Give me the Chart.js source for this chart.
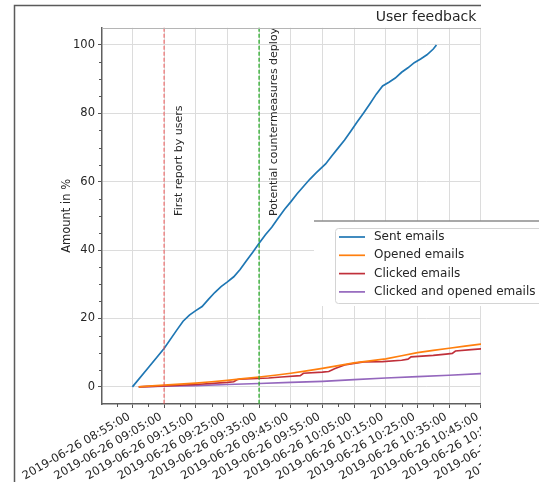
<!DOCTYPE html>
<html>
<head>
<meta charset="utf-8">
<script src="https://cdn.jsdelivr.net/npm/chart.js@4.4.1/dist/chart.umd.min.js"></script>
<style>
  html, body { margin: 0; padding: 0; background: #fff; overflow: hidden; width: 539px; height: 482px; }
  #wrap { position: absolute; left: 0; top: 0; width: 760px; height: 482px; }
</style>
</head>
<body>
<div id="wrap"><canvas id="chart"></canvas></div>
<script>
// Phishing campaign follow-up, 2019-06-26: share of recipients (%) over time.
const DAY = '2019-06-26';

const sentTimes = ['08:55','09:00','09:05','09:09','09:11','09:13','09:15','09:17','09:19','09:21',
  '09:23','09:25','09:27','09:29','09:31','09:33','09:35','09:37','09:39','09:41',
  '09:43','09:45','09:47','09:49','09:51','09:53','09:56','09:58','10:00','10:02',
  '10:04','10:06','10:08','10:10','10:12','10:14','10:16','10:18','10:20','10:22',
  '10:24','10:26','10:28','10:30','10:31'];
const sentValues = [0, 5.6, 11.2, 16.6, 19.2, 21.0, 22.3, 23.5, 25.6, 27.6,
  29.3, 30.7, 32.2, 34.3, 36.9, 39.4, 42.0, 44.5, 46.7, 49.3,
  51.9, 54.1, 56.5, 58.6, 60.7, 62.6, 65.2, 67.6, 69.9, 72.2,
  74.8, 77.5, 80.1, 82.8, 85.6, 88.0, 89.1, 90.3, 92.0, 93.3,
  94.8, 95.9, 97.1, 98.8, 100];

const openedTimes = ['08:57','09:00','09:05','09:10','09:15','09:20','09:25','09:30','09:35','09:40',
  '09:45','09:50','09:55','10:00','10:05','10:10','10:15','10:20','10:25','10:30',
  '10:35','10:40','10:45','10:50'];
const openedValues = [0, 0.2, 0.5, 0.8, 1.1, 1.5, 1.9, 2.4, 2.9, 3.4,
  4.0, 4.7, 5.4, 6.2, 7.0, 7.6, 8.2, 9.1, 10.0, 10.7,
  11.3, 11.9, 12.5, 13.0];

const clickedTimes = ['08:57','09:05','09:15','09:25','09:27','09:28','09:29','09:38','09:42','09:48',
  '09:49','09:55','09:57','09:59','10:02','10:05','10:08','10:14','10:20','10:22',
  '10:23','10:30','10:34','10:36','10:37','10:42','10:45','10:50'];
const clickedValues = [0, 0.3, 0.7, 1.3, 1.5, 2.1, 2.3, 2.6, 2.9, 3.3,
  4.0, 4.3, 4.5, 5.4, 6.4, 6.9, 7.3, 7.4, 7.8, 8.1,
  8.8, 9.2, 9.6, 9.8, 10.5, 10.9, 11.1, 11.3];

const bothTimes = ['08:57','09:05','09:15','09:25','09:35','09:45','09:55','10:05','10:15','10:25',
  '10:35','10:45','10:50'];
const bothValues = [0, 0.2, 0.4, 0.7, 1.0, 1.3, 1.6, 2.1, 2.6, 3.0,
  3.4, 3.9, 4.0];

const seriesNames = ['Sent emails', 'Opened emails', 'Clicked emails', 'Clicked and opened emails'];

const xTickTimes = ['08:55','09:05','09:15','09:25','09:35','09:45','09:55','10:05',
  '10:15','10:25','10:35','10:45','10:55','11:05','11:15'];
const yTickValues = [0, 20, 40, 60, 80, 100];

const eventTimes = ['09:05', '09:35'];
const eventLabels = ['First report by users', 'Potential countermeasures deploy'];

// ---- styling ----
const seriesColors = ['#1f77b4', '#ff7f0e', '#c0303a', '#9467bd'];
const eventColors = ['rgba(240,70,70,0.6)', 'rgba(40,170,40,0.85)'];
const FONT = 'DejaVu Sans';
const TEXT = '#262626';
const VIEW_RIGHT = 481;   // visible right edge of the figure

const toMin = t => { const [h, m] = t.split(':').map(Number); return h * 60 + m; };
const pad2 = n => String(n).padStart(2, '0');
const fmt = v => `${DAY} ${pad2(Math.floor(v / 60))}:${pad2(Math.round(v % 60))}:00`;
const pts = (ts, vs) => ts.map((t, i) => ({ x: toMin(t), y: vs[i] }));

const seriesData = [
  pts(sentTimes, sentValues),
  pts(openedTimes, openedValues),
  pts(clickedTimes, clickedValues),
  pts(bothTimes, bothValues)
];

// vertical event markers with rotated captions
const eventPlugin = {
  id: 'events',
  afterDatasetsDraw(chart) {
    const { ctx, chartArea: a, scales: { x, y } } = chart;
    ctx.save();
    eventTimes.forEach((t, i) => {
      const px = x.getPixelForValue(toMin(t));
      ctx.strokeStyle = eventColors[i];
      ctx.lineWidth = 1.5;
      ctx.setLineDash([4, 2]);
      ctx.beginPath();
      ctx.moveTo(px, a.top);
      ctx.lineTo(px, a.bottom);
      ctx.stroke();
      ctx.setLineDash([]);
      ctx.save();
      ctx.translate(px + 15, y.getPixelForValue(50));
      ctx.rotate(-Math.PI / 2);
      ctx.fillStyle = TEXT;
      ctx.font = `11px "${FONT}"`;
      ctx.textAlign = 'left';
      ctx.textBaseline = 'middle';
      ctx.fillText(eventLabels[i], 0, 0);
      ctx.restore();
    });
    ctx.restore();
  }
};

// minor ticks, top spine, figure frame and legend panel
const framePlugin = {
  id: 'frame',
  afterDraw(chart) {
    const { ctx, chartArea: a, scales: { x, y }, width: W, height: H } = chart;
    ctx.save();
    ctx.strokeStyle = '#555';
    ctx.lineWidth = 1;
    for (let v = 5; v < 105; v += 5) {
      if (v % 20 === 0) continue;
      const py = Math.round(y.getPixelForValue(v)) + 0.5;
      ctx.beginPath(); ctx.moveTo(a.left - 3, py); ctx.lineTo(a.left, py); ctx.stroke();
    }
    for (let m = Math.ceil(x.min / 5) * 5; m < x.max; m += 5) {
      if ((m - toMin(xTickTimes[0])) % 10 === 0) continue;
      const px = Math.round(x.getPixelForValue(m)) + 0.5;
      ctx.beginPath(); ctx.moveTo(px, a.bottom); ctx.lineTo(px, a.bottom + 3); ctx.stroke();
    }
    // top spine
    ctx.strokeStyle = '#b5b5b5';
    ctx.beginPath(); ctx.moveTo(a.left, Math.round(a.top) + 0.5); ctx.lineTo(a.right, Math.round(a.top) + 0.5); ctx.stroke();

    // area outside the visible figure
    ctx.fillStyle = '#fff';
    ctx.fillRect(VIEW_RIGHT, 0, W - VIEW_RIGHT, H);

    // figure frame
    ctx.strokeStyle = '#5a5a5a';
    ctx.lineWidth = 1.5;
    ctx.beginPath();
    ctx.moveTo(14.5, H);
    ctx.lineTo(14.5, 5.5);
    ctx.lineTo(VIEW_RIGHT, 5.5);
    ctx.stroke();

    // legend panel
    const top = 221, bottom = 306, left = 314;
    ctx.fillStyle = '#fff';
    ctx.fillRect(left, top, W - left, bottom - top);
    ctx.strokeStyle = '#8c8c8c';
    ctx.lineWidth = 1.5;
    ctx.beginPath(); ctx.moveTo(left, top); ctx.lineTo(W, top); ctx.stroke();
    ctx.strokeStyle = '#d4d4d4';
    ctx.lineWidth = 1;
    ctx.beginPath();
    ctx.roundRect(335.5, 228.5, W, 75, 3);
    ctx.stroke();
    ctx.font = `12px "${FONT}"`;
    ctx.textAlign = 'left';
    ctx.textBaseline = 'middle';
    seriesNames.forEach((name, i) => {
      const ly = 237 + i * 18.3;
      ctx.strokeStyle = seriesColors[i];
      ctx.lineWidth = 1.7;
      ctx.beginPath(); ctx.moveTo(339, ly); ctx.lineTo(365, ly); ctx.stroke();
      ctx.fillStyle = TEXT;
      ctx.fillText(name, 374, ly);
    });
    ctx.restore();
  }
};

new Chart(document.getElementById('chart'), {
  type: 'line',
  data: {
    datasets: seriesData.map((d, i) => ({
      label: seriesNames[i],
      data: d,
      borderColor: seriesColors[i],
      backgroundColor: seriesColors[i],
      borderWidth: 1.7,
      pointRadius: 0,
      tension: 0,
      fill: false
    }))
  },
  options: {
    responsive: true,
    maintainAspectRatio: false,
    devicePixelRatio: 1,
    animation: false,
    layout: { padding: { left: 0, right: 10, top: 0, bottom: 0 } },
    plugins: {
      legend: { display: false },
      tooltip: { enabled: false },
      title: {
        display: true,
        text: 'User feedback',
        fullSize: false,
        color: TEXT,
        font: { family: FONT, size: 14, weight: 'normal' },
        padding: { top: 9, bottom: 2 }
      }
    },
    scales: {
      x: {
        type: 'linear',
        min: 525.4,
        max: 730,
        afterBuildTicks: s => { s.ticks = xTickTimes.map(t => ({ value: toMin(t) })); },
        afterFit: s => { s.height = 78; },
        grid: { color: '#dcdcdc', lineWidth: 1, tickColor: '#555', tickLength: 4 },
        border: { display: true, color: '#5f5f5f', width: 1.5 },
        ticks: {
          autoSkip: false,
          minRotation: 30,
          maxRotation: 30,
          padding: 2,
          labelOffset: -3,
          color: TEXT,
          font: { family: FONT, size: 11.5 },
          callback: v => fmt(v)
        }
      },
      y: {
        min: -5,
        max: 105,
        afterBuildTicks: s => { s.ticks = yTickValues.map(v => ({ value: v })); },
        afterFit: s => { s.width = 102; },
        grid: { color: '#dcdcdc', lineWidth: 1, tickColor: '#555', tickLength: 4 },
        border: { display: true, color: '#5f5f5f', width: 1.5 },
        ticks: { padding: 3, color: TEXT, font: { family: FONT, size: 11.5 } },
        title: {
          display: true,
          text: 'Amount in %',
          color: TEXT,
          font: { family: FONT, size: 11.5 },
          padding: { top: 60, bottom: 0 }
        }
      }
    }
  },
  plugins: [eventPlugin, framePlugin]
});
</script>
</body>
</html>
